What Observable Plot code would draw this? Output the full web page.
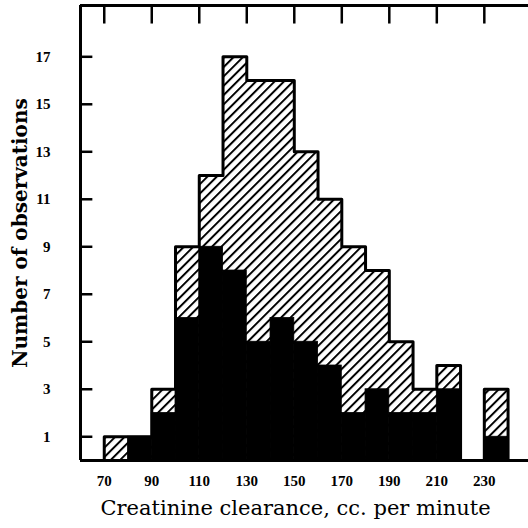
<!DOCTYPE html>
<html>
<head>
<meta charset="utf-8">
<script src="https://cdn.jsdelivr.net/npm/d3@7"></script>
<script src="https://cdn.jsdelivr.net/npm/@observablehq/plot@0.6"></script>
<style>
  html, body { margin: 0; padding: 0; background: #fff; }
</style>
</head>
<body>
<div id="chart"></div>
<script>
// Bin starts (cc per minute), width 10
const binStart = [70, 80, 90, 100, 110, 120, 130, 140, 150, 160, 170, 180, 190, 200, 210, 220, 230];
// Total observations (hatched outline height)
const totalObs = [1, 1, 3, 9, 12, 17, 16, 16, 13, 11, 9, 8, 5, 3, 4, 0, 3];
// Black (solid) portion
const blackObs = [0, 1, 2, 6, 9, 8, 5, 6, 5, 4, 2, 3, 2, 2, 3, 0, 1];
const binWidth = 10;
const xTicks = [70, 90, 110, 130, 150, 170, 190, 210, 230];
const yTicks = [1, 3, 5, 7, 9, 11, 13, 15, 17];

const bins = binStart.map((s, i) => ({x1: s, x2: s + binWidth, total: totalObs[i], black: blackObs[i]}));

// outline path points (step-after)
const outline = [{x: binStart[0], y: 0}];
bins.forEach(b => outline.push({x: b.x1, y: b.total}));
outline.push({x: bins[bins.length - 1].x2, y: bins[bins.length - 1].total});
outline.push({x: bins[bins.length - 1].x2, y: 0});

const xDomain = [60, 248.6];
const yTop = 19.16;
const font = "Liberation Serif";

const chart = Plot.plot({
  width: 528,
  height: 528,
  marginLeft: 80,
  marginRight: 0,
  marginTop: 5,
  marginBottom: 68,
  style: {fontFamily: font, background: "#fff", color: "#000"},
  x: {domain: xDomain, ticks: xTicks},
  y: {domain: [0, yTop], ticks: yTicks},
  marks: [
    Plot.rectY(bins, {x1: "x1", x2: "x2", y: "total", fill: "url(#hatch)", inset: 0, shapeRendering: "crispEdges"}),
    Plot.rectY(bins.filter(b => b.black > 0), {x1: "x1", x2: "x2", y: "black", fill: "#000", stroke: "#000", strokeWidth: 0.8, inset: 0}),
    Plot.line(outline, {x: "x", y: "y", curve: "step-after", stroke: "#000", strokeWidth: 3, strokeLinejoin: "round"}),
    Plot.ruleX([xDomain[0]], {stroke: "#000", strokeWidth: 3, y1: 0, y2: yTop}),
    Plot.ruleY([0], {stroke: "#000", strokeWidth: 3}),
    Plot.ruleY([yTop], {stroke: "#000", strokeWidth: 3}),
    Plot.ruleX(xTicks, {y1: yTop, y2: yTop - 0.78, stroke: "#000", strokeWidth: 2.5}),
    Plot.ruleY(yTicks, {x1: xDomain[0], x2: xDomain[0] + 5.2, stroke: "#000", strokeWidth: 2.5}),
    Plot.axisY({ticks: yTicks, tickSize: 0, tickPadding: 30, fontSize: 15, fontWeight: "bold", label: null}),
    Plot.axisX({ticks: xTicks, tickSize: 0, tickPadding: 15, fontSize: 15, fontWeight: "bold", label: null}),
    Plot.text(["Creatinine clearance, cc. per minute"], {frameAnchor: "bottom", textAnchor: "middle", dx: -9, dy: 54, fontSize: 21, fontFamily: "DejaVu Serif", fill: "#000"}),
    Plot.text(["Number of observations"], {frameAnchor: "left", textAnchor: "middle", dx: -60, rotate: -90, fontSize: 20, fontWeight: "bold", fontFamily: "DejaVu Serif", fill: "#000"})
  ]
});

// add hatch pattern
const ns = "http://www.w3.org/2000/svg";
const defs = document.createElementNS(ns, "defs");
const pat = document.createElementNS(ns, "pattern");
pat.setAttribute("id", "hatch");
pat.setAttribute("patternUnits", "userSpaceOnUse");
pat.setAttribute("width", "6.6");
pat.setAttribute("height", "6.6");
pat.setAttribute("patternTransform", "rotate(45)");
const bg = document.createElementNS(ns, "rect");
bg.setAttribute("width", "6.6"); bg.setAttribute("height", "6.6"); bg.setAttribute("fill", "#fff");
const ln = document.createElementNS(ns, "line");
ln.setAttribute("x1", "1"); ln.setAttribute("y1", "0"); ln.setAttribute("x2", "1"); ln.setAttribute("y2", "6.6");
ln.setAttribute("stroke", "#000"); ln.setAttribute("stroke-width", "2");
pat.appendChild(bg); pat.appendChild(ln);
defs.appendChild(pat);
chart.insertBefore(defs, chart.firstChild);

document.getElementById("chart").appendChild(chart);
</script>
</body>
</html>
